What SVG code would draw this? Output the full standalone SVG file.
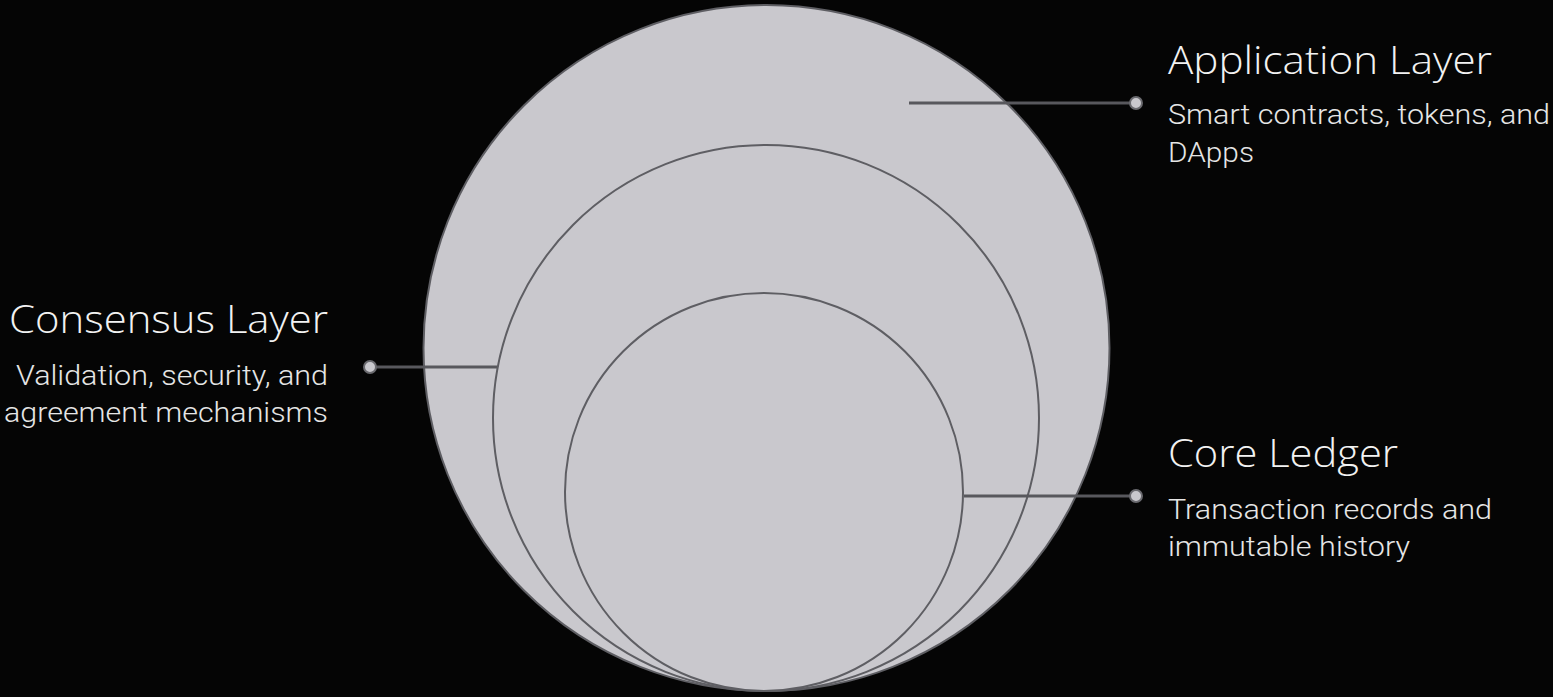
<svg xmlns="http://www.w3.org/2000/svg" width="1553" height="697" viewBox="0 0 1553 697">
<style>
.ring{fill:#c9c8cd;stroke:#5e5e63;stroke-width:2}
.conn{stroke:#58585d;stroke-width:3;fill:none}
.dot{fill:#c9c8cd;stroke:#6a6a6f;stroke-width:2}
.h{font-family:"Open Sans","Liberation Sans",sans-serif;font-weight:300;font-size:38px;fill:#f2f2f2}
.b{font-family:Roboto,"Liberation Sans",sans-serif;font-weight:300;font-size:28px;fill:#e6e6e6}
</style>
<rect width="1553" height="697" fill="#050505"/>
<g id="application-layer">
<circle class="ring" cx="766.5" cy="348" r="343"/>
</g>
<g id="consensus-layer">
<circle class="ring" cx="766" cy="418" r="273"/>
</g>
<g id="core-ledger">
<circle class="ring" cx="764" cy="492" r="199"/>
</g>
<g id="connectors">
<line class="conn" x1="909" y1="103" x2="1136" y2="103"/>
<circle class="dot" cx="1136" cy="103" r="6"/>
<line class="conn" x1="370" y1="367" x2="497" y2="367"/>
<circle class="dot" cx="370" cy="367" r="6"/>
<line class="conn" x1="964" y1="496" x2="1136" y2="496"/>
<circle class="dot" cx="1136" cy="496" r="6"/>
</g>
<g id="label-application">
<text class="h" x="1168" y="74" textLength="324" lengthAdjust="spacingAndGlyphs">Application Layer</text>
<text class="b" x="1168" y="124" textLength="382" lengthAdjust="spacingAndGlyphs">Smart contracts, tokens, and</text>
<text class="b" x="1168" y="162" textLength="86" lengthAdjust="spacingAndGlyphs">DApps</text>
</g>
<g id="label-consensus">
<text class="h" x="9" y="333" textLength="319" lengthAdjust="spacingAndGlyphs">Consensus Layer</text>
<text class="b" x="16" y="385" textLength="312" lengthAdjust="spacingAndGlyphs">Validation, security, and</text>
<text class="b" x="4" y="422" textLength="324" lengthAdjust="spacingAndGlyphs">agreement mechanisms</text>
</g>
<g id="label-core">
<text class="h" x="1168" y="467" textLength="230" lengthAdjust="spacingAndGlyphs">Core Ledger</text>
<text class="b" x="1168" y="519" textLength="324" lengthAdjust="spacingAndGlyphs">Transaction records and</text>
<text class="b" x="1168" y="556" textLength="242" lengthAdjust="spacingAndGlyphs">immutable history</text>
</g>
</svg>
